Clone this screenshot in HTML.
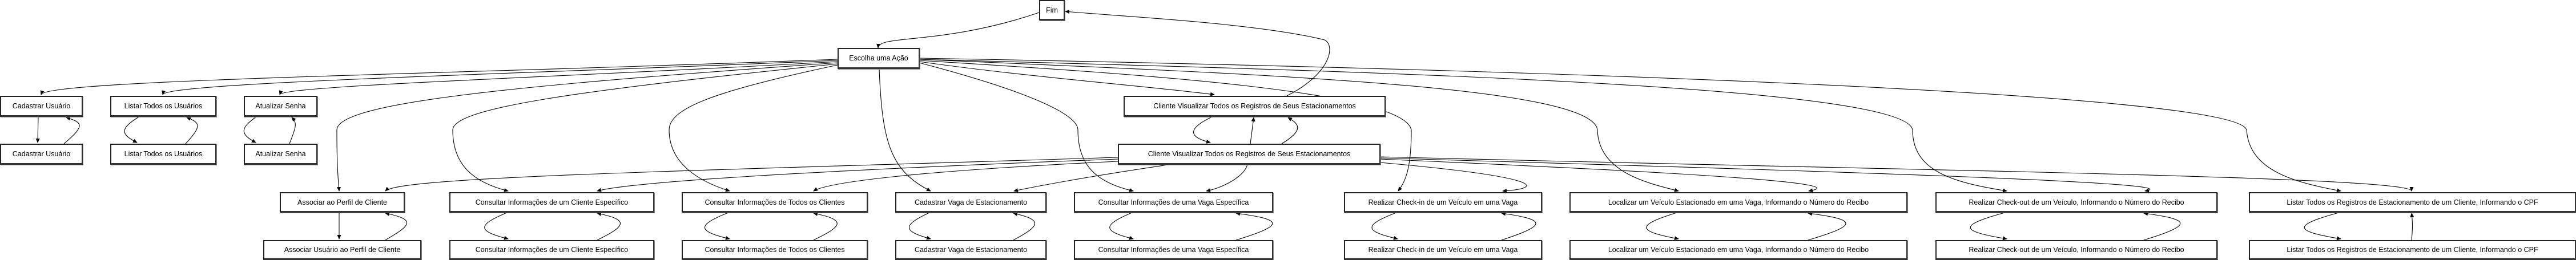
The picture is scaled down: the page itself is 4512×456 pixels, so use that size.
<!DOCTYPE html>
<html><head><meta charset="utf-8"><style>
html,body{margin:0;padding:0;background:#fff;}
body{width:4512px;height:456px;position:relative;overflow:hidden;font-family:"Liberation Sans",sans-serif;}
.b{position:absolute;box-sizing:border-box;border:2px solid #222;border-bottom:3px solid #333;border-right:2.5px solid #333;background:#fff;display:flex;align-items:center;justify-content:center;font-size:12.5px;color:#000;white-space:nowrap;box-shadow:1px 1px 0 #888;}
svg{position:absolute;left:0;top:0;}
</style></head><body>
<svg width="4512" height="456" viewBox="0 0 4512 456">
<defs><marker id="a" markerWidth="8" markerHeight="8" refX="7" refY="4" orient="auto" markerUnits="userSpaceOnUse"><path d="M0,0.5 L8,4 L0,7.5 z" fill="#000"/></marker></defs>
<g fill="none" stroke="#000" stroke-width="1.1" marker-end="url(#a)">
<!-- Fim <-> Escolha -->
<path d="M1820,22 C1650,80 1540,60 1538,84"/>
<path d="M2254,168 C2330,130 2340,80 2320,70 C2200,40 1950,28 1866,20"/>
<!-- Escolha to row1 -->
<path d="M1467,104 C800,130 80,140 72,166"/>
<path d="M1467,106 C900,130 290,145 285,166"/>
<path d="M1467,108 C1000,135 495,150 490,166"/>
<!-- Escolha to row3 -->
<path d="M1467,110 C900,150 590,180 590,228 C590,300 593,320 594,335"/>
<path d="M1467,112 C1000,160 793,190 793,228 C793,290 830,320 890,335"/>
<path d="M1467,114 C1250,160 1172,190 1172,228 C1172,290 1230,320 1278,335"/>
<path d="M1540,121 C1545,250 1560,300 1630,335"/>
<path d="M1610,110 C1800,160 1888,200 1888,228 C1888,290 1920,320 1985,335"/>
<path d="M1610,108 C1800,135 2000,150 2127,166"/>
<path d="M1610,106 C2000,130 2460,160 2472,228 C2472,300 2460,320 2449,335"/>
<path d="M1610,104 C2200,130 2790,150 2798,228 C2800,300 2880,320 2940,335"/>
<path d="M1610,104 C2400,125 3340,150 3350,228 C3350,300 3420,320 3515,335"/>
<path d="M1610,102 C2600,120 3920,160 3935,228 C3940,300 4020,320 4100,335"/>
<!-- Cliente top <-> second -->
<path d="M2125,204 C2080,225 2080,240 2120,250"/>
<path d="M2190,252 L2196,206"/>
<path d="M2245,252 C2290,225 2270,215 2256,206"/>
<!-- second Cliente to row3 -->
<path d="M1958,276 C1200,300 700,310 675,335"/>
<path d="M1958,279 C1400,300 1100,320 1046,335"/>
<path d="M1958,283 C1600,300 1450,320 1425,335"/>
<path d="M2053,288 C1900,310 1800,330 1776,335"/>
<path d="M2185,288 C2180,310 2140,330 2113,335"/>
<path d="M2417,285 C2700,310 2710,330 2632,335"/>
<path d="M2417,279 C2900,300 3260,320 3168,335"/>
<path d="M2417,277 C3200,300 3850,320 3757,335"/>
<path d="M2417,275 C3400,300 4224,310 4224,335"/>
<!-- row3 <-> row4 -->
<path d="M67,204 L66,250"/><path d="M112,252 C150,220 145,215 116,206"/>
<path d="M245,204 C210,225 210,235 240,250"/><path d="M325,252 C355,220 350,215 327,206"/>
<path d="M450,204 C420,225 420,235 448,250"/><path d="M507,252 C520,220 520,215 511,206"/>
<path d="M594,372 L594,419"/><path d="M675,421 C720,395 730,385 675,374"/>
<path d="M890,372 C835,395 835,405 890,419"/><path d="M1046,421 C1100,395 1100,385 1046,374"/>
<path d="M1278,372 C1220,395 1220,405 1278,419"/><path d="M1425,421 C1480,395 1480,385 1425,374"/>
<path d="M1630,372 C1580,395 1580,405 1630,419"/><path d="M1775,421 C1825,395 1825,385 1775,374"/>
<path d="M1985,372 C1930,395 1930,405 1985,419"/><path d="M2165,421 C2250,395 2250,385 2165,374"/>
<path d="M2448,372 C2388,395 2388,405 2448,419"/><path d="M2630,421 C2710,395 2710,385 2630,374"/>
<path d="M2940,372 C2865,395 2865,405 2940,419"/><path d="M3167,421 C3255,395 3255,385 3167,374"/>
<path d="M3515,372 C3430,395 3430,405 3515,419"/><path d="M3755,421 C3840,395 3840,385 3755,374"/>
<path d="M4100,372 C4015,395 4015,405 4100,419"/><path d="M4224,421 C4226,400 4226,390 4224,374"/>
</g></svg>
<div class="b" style="left:1820px;top:0;width:45px;height:36px;">Fim</div>
<div class="b" style="left:1467px;top:84px;width:144px;height:37px;">Escolha uma Ação</div>
<div class="b" style="left:0;top:168px;width:145px;height:37px;">Cadastrar Usuário</div>
<div class="b" style="left:193px;top:168px;width:186px;height:37px;">Listar Todos os Usuários</div>
<div class="b" style="left:427px;top:168px;width:129px;height:37px;">Atualizar Senha</div>
<div class="b" style="left:1968px;top:168px;width:459px;height:37px;">Cliente Visualizar Todos os Registros de Seus Estacionamentos</div>
<div class="b" style="left:0;top:252px;width:145px;height:37px;">Cadastrar Usuário</div>
<div class="b" style="left:193px;top:252px;width:186px;height:37px;">Listar Todos os Usuários</div>
<div class="b" style="left:427px;top:252px;width:129px;height:37px;">Atualizar Senha</div>
<div class="b" style="left:1958px;top:252px;width:460px;height:37px;">Cliente Visualizar Todos os Registros de Seus Estacionamentos</div>
<div class="b" style="left:490px;top:337px;width:219px;height:36px;">Associar ao Perfil de Cliente</div>
<div class="b" style="left:787px;top:337px;width:359px;height:36px;">Consultar Informações de um Cliente Específico</div>
<div class="b" style="left:1194px;top:337px;width:326px;height:36px;">Consultar Informações de Todos os Clientes</div>
<div class="b" style="left:1568px;top:337px;width:265px;height:36px;">Cadastrar Vaga de Estacionamento</div>
<div class="b" style="left:1881px;top:337px;width:349px;height:36px;">Consultar Informações de uma Vaga Específica</div>
<div class="b" style="left:2354px;top:337px;width:347px;height:36px;">Realizar Check-in de um Veículo em uma Vaga</div>
<div class="b" style="left:2749px;top:337px;width:592px;height:36px;">Localizar um Veículo Estacionado em uma Vaga, Informando o Número do Recibo</div>
<div class="b" style="left:3390px;top:337px;width:494px;height:36px;">Realizar Check-out de um Veículo, Informando o Número do Recibo</div>
<div class="b" style="left:3939px;top:337px;width:573px;height:36px;">Listar Todos os Registros de Estacionamento de um Cliente, Informando o CPF</div>
<div class="b" style="left:461px;top:421px;width:277px;height:35px;">Associar Usuário ao Perfil de Cliente</div>
<div class="b" style="left:787px;top:421px;width:359px;height:35px;">Consultar Informações de um Cliente Específico</div>
<div class="b" style="left:1194px;top:421px;width:326px;height:35px;">Consultar Informações de Todos os Clientes</div>
<div class="b" style="left:1568px;top:421px;width:265px;height:35px;">Cadastrar Vaga de Estacionamento</div>
<div class="b" style="left:1881px;top:421px;width:349px;height:35px;">Consultar Informações de uma Vaga Específica</div>
<div class="b" style="left:2354px;top:421px;width:347px;height:35px;">Realizar Check-in de um Veículo em uma Vaga</div>
<div class="b" style="left:2749px;top:421px;width:592px;height:35px;">Localizar um Veículo Estacionado em uma Vaga, Informando o Número do Recibo</div>
<div class="b" style="left:3390px;top:421px;width:494px;height:35px;">Realizar Check-out de um Veículo, Informando o Número do Recibo</div>
<div class="b" style="left:3939px;top:421px;width:573px;height:35px;">Listar Todos os Registros de Estacionamento de um Cliente, Informando o CPF</div>
</body></html>
